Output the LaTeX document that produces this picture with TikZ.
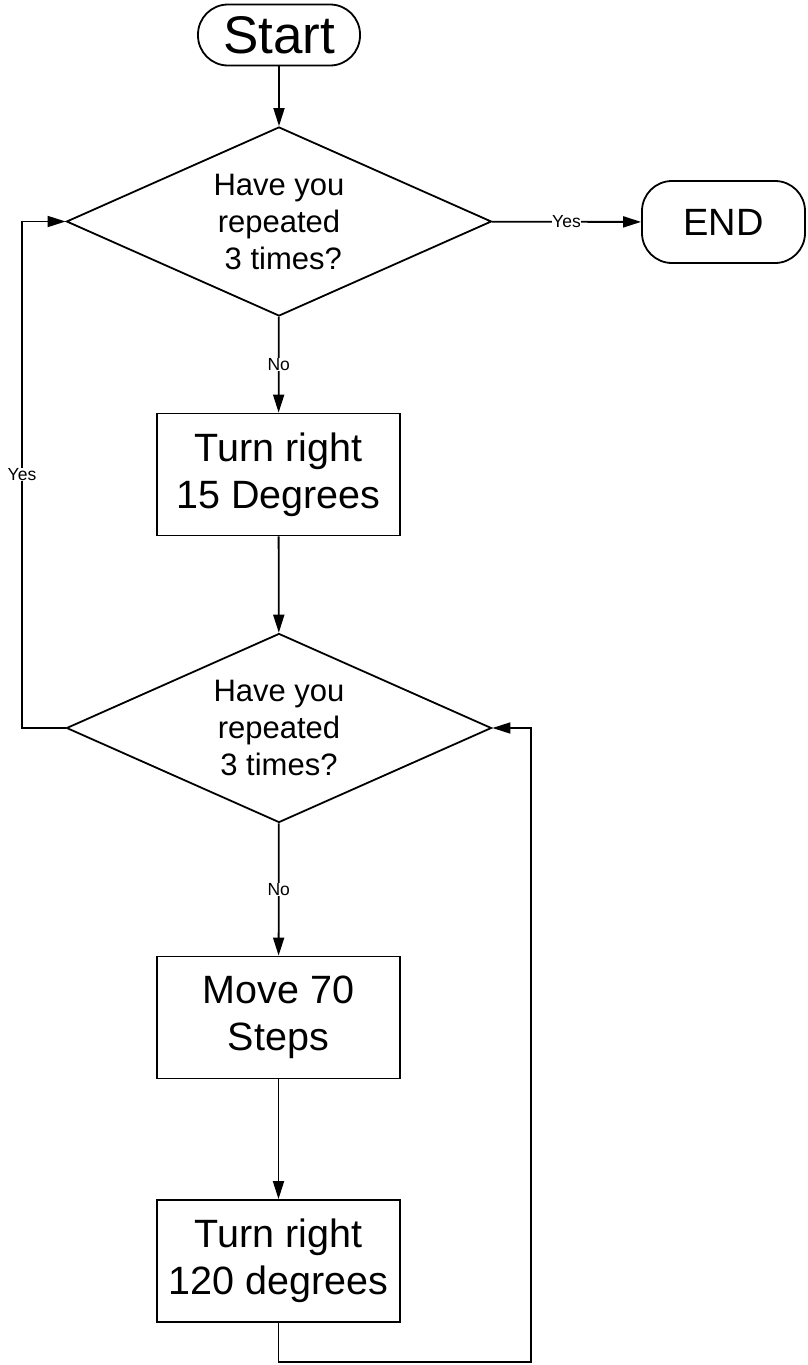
\documentclass[tikz,border=0pt]{standalone}
\usepackage{fontspec}
\setmainfont{Liberation Sans}
\usetikzlibrary{shapes.geometric,arrows.meta}

\tikzset{
  terminal/.style={draw, line width=1.8pt, rounded corners=30pt, inner sep=0pt},
  decision/.style={draw, diamond, aspect=2.25, line width=1.8pt, minimum width=425pt, minimum height=189pt, inner sep=0pt, align=center, font=\fontsize{31}{37}\selectfont},
  process/.style={draw, rectangle, line width=1.8pt, minimum width=243pt, minimum height=122pt, align=center, font=\fontsize{39.5}{47}\selectfont},
  flow/.style={line width=1.8pt, -{Triangle[length=18pt,width=11pt]}},
  tag/.style={fill=white, inner sep=0.5pt, font=\fontsize{17.5}{17.5}\selectfont}
}

\begin{document}
\begin{tikzpicture}[x=1pt,y=1pt,yscale=-1]
\useasboundingbox (0,0) rectangle (807,1365);

%Terminals
\node [terminal, minimum width=162pt, minimum height=61pt, font=\fontsize{53}{53}\selectfont] (start) at (279,35) {Start};
\node [terminal, minimum width=163pt, minimum height=82pt, font=\fontsize{38}{38}\selectfont] (finish) at (723.5,222) {END};

%Decisions
\node [decision] (ask1) at (279,221.5) {Have you\\repeated\\~3 times?};
\node [decision] (ask2) at (279,728) {Have you\\repeated\\3 times?};

%Process boxes
\node [process] (turn1) at (278.5,474.5) {Turn right\\15 Degrees};
\node [process] (move) at (278.5,1017.5) {Move 70\\Steps};
\node [process] (turn2) at (278.5,1261) {Turn right\\120 degrees};

%Loop corners
\coordinate (loopL) at (22,728);
\coordinate (loopB) at (531,1362);

%Connectors
\draw [flow] (start) -- (ask1);
\draw [flow] (ask1) -- node [tag] {Yes} (finish);
\draw [flow] (ask1) -- node [tag] {No} (turn1);
\draw [flow] (turn1) -- (ask2);
\draw [flow] (ask2.west) -- (loopL) |- node [tag, pos=0.25] {Yes} (ask1.west);
\draw [flow] (ask2) -- node [tag] {No} (move);
\draw [flow] (move) -- (turn2);
\draw [flow] (turn2.south) |- (loopB) |- (ask2.east);
\end{tikzpicture}
\end{document}
